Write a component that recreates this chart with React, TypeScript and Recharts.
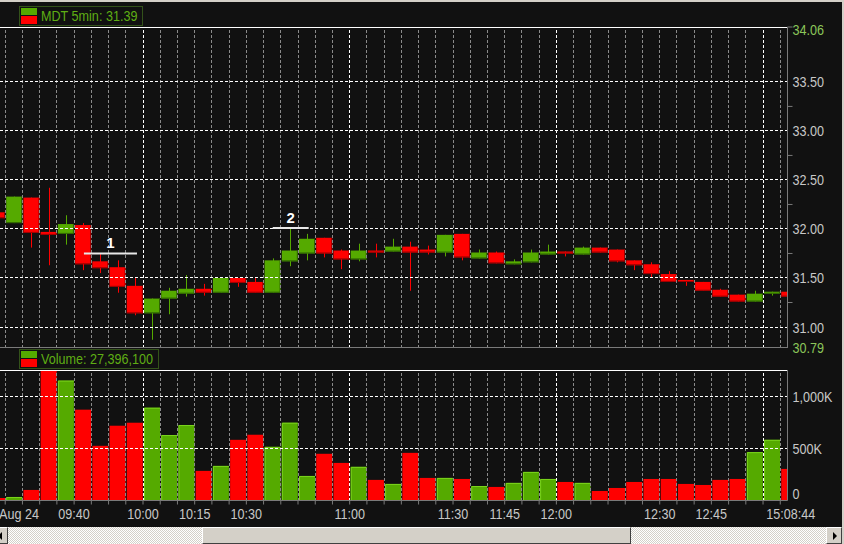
import { ComposedChart, Bar, XAxis, YAxis, ReferenceLine } from 'recharts'

// 5 minute bars, the first three are the close of the previous session
const TIMES = [
  '15:45', '15:50', '15:55',
  '09:30', '09:35', '09:40', '09:45', '09:50', '09:55',
  '10:00', '10:05', '10:10', '10:15', '10:20', '10:25', '10:30', '10:35', '10:40', '10:45', '10:50', '10:55',
  '11:00', '11:05', '11:10', '11:15', '11:20', '11:25', '11:30', '11:35', '11:40', '11:45', '11:50', '11:55',
  '12:00', '12:05', '12:10', '12:15', '12:20', '12:25', '12:30', '12:35', '12:40', '12:45', '12:50', '12:55',
  '13:00', '13:05'
]
const OPEN = [
  32.17, 32.06, 32.32,
  31.97, 31.95, 32.04, 31.67, 31.61, 31.42,
  31.14, 31.29, 31.34, 31.39, 31.35, 31.50, 31.46, 31.35, 31.67, 31.75, 31.91, 31.78,
  31.69, 31.78, 31.77, 31.82, 31.79, 31.76, 31.95, 31.70, 31.76, 31.64, 31.66, 31.74,
  31.77, 31.74, 31.81, 31.79, 31.68, 31.64, 31.54, 31.48, 31.46, 31.38, 31.33, 31.26,
  31.34, 31.36
]
const HIGH = [
  32.18, 32.33, 32.32,
  32.42, 32.14, 32.06, 31.75, 31.68, 31.50,
  31.29, 31.40, 31.53, 31.44, 31.51, 31.50, 31.51, 31.70, 32.00, 31.95, 31.91, 31.79,
  31.85, 31.85, 31.90, 31.87, 31.83, 31.94, 31.95, 31.79, 31.77, 31.69, 31.79, 31.84,
  31.77, 31.82, 31.81, 31.79, 31.68, 31.66, 31.57, 31.48, 31.46, 31.39, 31.33, 31.37,
  31.36, 31.36
]
const LOW = [
  32.10, 32.06, 31.81,
  31.63, 31.84, 31.58, 31.55, 31.35, 31.12,
  30.87, 31.13, 31.31, 31.32, 31.35, 31.41, 31.35, 31.35, 31.62, 31.68, 31.71, 31.59,
  31.67, 31.71, 31.77, 31.37, 31.74, 31.72, 31.68, 31.70, 31.65, 31.64, 31.66, 31.74,
  31.72, 31.74, 31.76, 31.66, 31.58, 31.51, 31.46, 31.42, 31.37, 31.31, 31.26, 31.26,
  31.32, 31.31
]
const CLOSE = [
  32.11, 32.33, 31.96,
  31.94, 32.05, 31.64, 31.60, 31.41, 31.14,
  31.29, 31.37, 31.39, 31.35, 31.50, 31.45, 31.35, 31.68, 31.78, 31.90, 31.75, 31.69,
  31.78, 31.76, 31.82, 31.76, 31.76, 31.94, 31.71, 31.76, 31.65, 31.67, 31.76, 31.77,
  31.75, 31.81, 31.76, 31.67, 31.63, 31.54, 31.46, 31.46, 31.37, 31.31, 31.26, 31.34,
  31.36, 31.31
]
// volume in thousands
const VOLUME = [
  24, 34, 102,
  1320, 1158, 877, 528, 722, 751,
  896, 632, 729, 286, 334, 586, 635, 518, 751, 237, 451, 363,
  325, 199, 160, 460, 218, 218, 208, 140, 131, 170, 276, 208,
  179, 170, 92, 121, 179, 208, 208, 160, 150, 199, 208, 467,
  586, 305
]

const TIME_LABELS: [string, string][] = [
  ['09:30', 'Aug 24'], ['09:40', '09:40'], ['10:00', '10:00'], ['10:15', '10:15'], ['10:30', '10:30'],
  ['11:00', '11:00'], ['11:30', '11:30'], ['11:45', '11:45'], ['12:00', '12:00'],
  ['12:30', '12:30'], ['12:45', '12:45'], ['13:05', '15:08:44']
]
const PRICE_LINES = [31, 31.5, 32, 32.5, 33, 33.5]
const PRICE_MINOR = [31.25, 31.75, 32.25, 32.75, 33.25]
const PRICE_MIN = 30.79
const PRICE_MAX = 34.06
const VOL_LINES = [500000, 1000000]
const VOL_MAX = 1260000

const GREEN = '#55aa00'
const RED = '#ff0000'
const BG = '#111111'
const GRID = '#8a8a8a'
const AXIS = '#7a7a7a'
const TEXT = '#c8c8c8'
const LEGEND_TEXT = '#5fae14'
const FONT = "'Liberation Sans', Arial, sans-serif"
const NARROW = 0.84 // the terminal font is a condensed face
const X_DOMAIN: [number, number] = [0.697, 46.42]

const rows = TIMES.map((t, i) => ({
  x: i + 0.5,
  t,
  open: OPEN[i],
  high: HIGH[i],
  low: LOW[i],
  close: CLOSE[i],
  volume: VOLUME[i] * 1000,
  up: CLOSE[i] >= OPEN[i]
}))

const boundaries = TIMES.map((_, i) => i).filter(i => i >= 1)
const labelAt: Record<number, string> = {}
TIME_LABELS.forEach(([t, l]) => { labelAt[TIMES.indexOf(t)] = l })

const Candle = (props: any) => {
  const { x, y, width, height, payload } = props
  if (x == null || payload == null) return null
  const top = Math.min(y, y + height)
  const h = Math.abs(height)
  const k = h / (payload.high - payload.low)
  const color = payload.up ? GREEN : RED
  const dark = payload.up ? '#2f6400' : '#9a0000'
  const bTop = top + (payload.high - Math.max(payload.open, payload.close)) * k
  const bH = Math.max(Math.abs(payload.close - payload.open) * k, 2)
  const cx = Math.round(x + width / 2) + 0.5
  return (
    <g>
      <line x1={cx} x2={cx} y1={top} y2={top + h} stroke={color} />
      <rect x={x} y={bTop} width={width} height={bH} fill={color} />
      <rect x={x + width - 1} y={bTop} width={1} height={bH} fill={dark} />
      <rect x={x} y={bTop + bH - 1} width={width} height={1} fill={dark} />
    </g>
  )
}

const VolumeBar = (props: any) => {
  const { x, y, width, height, payload } = props
  if (x == null || payload == null || !height) return null
  const color = payload.up ? GREEN : RED
  return (
    <g>
      <rect x={x} y={y} width={width} height={height} fill={color} />
      {payload.up && (
        <path d={`M${x + 0.5},${y + height} V${y + 0.5} H${x + width}`} stroke="#7ad41c" fill="none" />
      )}
    </g>
  )
}

// condensed svg text
const NText = ({ x, y, anchor = 'start', fill, children }: any) => (
  <text transform={`translate(${x},${y}) scale(${NARROW},1)`} textAnchor={anchor} fill={fill}
    fontSize={15} fontFamily={FONT}>
    {children}
  </text>
)

const PriceTick = (props: any) => {
  const { x, y, payload } = props
  const v = payload.value
  const edge = v === PRICE_MIN || v === PRICE_MAX
  const minor = PRICE_MINOR.includes(v)
  return (
    <g>
      {(minor || v === PRICE_MAX) && <line x1={x} x2={x + 5} y1={y} y2={y} stroke={AXIS} />}
      {!minor && (
        <NText x={x + 5} y={y + 5.5 + (v === PRICE_MAX ? 2 : 0)} fill={edge ? '#8cc65a' : TEXT}>
          {v.toFixed(2)}
        </NText>
      )}
    </g>
  )
}

const VolumeTick = (props: any) => {
  const { x, y, payload } = props
  const v = payload.value
  const label = v === 0 ? '0' : `${(v / 1000).toLocaleString('en-US')}K`
  return (
    <NText x={x + 5} y={y + 5.5 - (v === 0 ? 7 : 0)} fill={TEXT}>
      {label}
    </NText>
  )
}

const TimeTick = (props: any) => {
  const { x, y, payload } = props
  const label = labelAt[payload.value]
  if (!label) return null
  let anchor = 'middle'
  let tx = x
  // the day label is pinned to the left edge of the plot
  if (label === 'Aug 24') { anchor = 'start'; tx = -1 }
  if (label === '15:08:44') { anchor = 'start'; tx = x - 14 }
  return (
    <NText x={tx} y={y + 12.7} anchor={anchor} fill={TEXT}>
      {label}
    </NText>
  )
}

function LegendBox({ label, top, width }: { label: string; top: number; width: number }) {
  return (
    <div style={{
      position: 'absolute', left: 19, top, width, height: 20, boxSizing: 'border-box',
      border: '1px solid #33521a', background: BG, display: 'flex', alignItems: 'center',
      whiteSpace: 'nowrap'
    }}>
      <div style={{ marginLeft: 1, width: 16, flex: 'none' }}>
        <div style={{ height: 7, background: GREEN }} />
        <div style={{ height: 1 }} />
        <div style={{ height: 8, background: RED }} />
      </div>
      <span style={{
        marginLeft: 4, color: LEGEND_TEXT, fontSize: 15, fontFamily: FONT, lineHeight: '18px',
        whiteSpace: 'nowrap', display: 'inline-block', transform: `scaleX(${NARROW})`, transformOrigin: 'left center'
      }}>
        {label}
      </span>
    </div>
  )
}

function vGrid() {
  return boundaries.map(b => (
    <ReferenceLine key={`v${b}`} x={b} stroke={TIMES[b].endsWith(':00') ? '#ffffff' : GRID}
      strokeDasharray="3 2" shapeRendering="crispEdges" />
  ))
}

export default function App() {
  return (
    <div style={{ position: 'fixed', left: 0, top: 0, width: 844, height: 544, background: BG, overflow: 'hidden' }}>
      <div style={{ position: 'absolute', left: 0, top: 0 }}>
        <ComposedChart width={844} height={360} data={rows} margin={{ top: 27, right: 0, bottom: 12.4, left: 0 }}>
          <XAxis dataKey="x" type="number" domain={X_DOMAIN} allowDataOverflow hide />
          <YAxis orientation="right" type="number" domain={[PRICE_MIN, PRICE_MAX]} allowDataOverflow width={56.5}
            ticks={[PRICE_MIN, ...PRICE_LINES, ...PRICE_MINOR, PRICE_MAX]} interval={0}
            axisLine={{ stroke: AXIS }} tickLine={false} tickSize={0} tickMargin={0} tick={<PriceTick />} />
          {vGrid()}
          {PRICE_LINES.map(p => (
            <ReferenceLine key={`h${p}`} y={p} stroke="#ffffff" strokeDasharray="3 2" shapeRendering="crispEdges" />
          ))}
          <ReferenceLine y={PRICE_MAX} stroke="#ffffff" shapeRendering="crispEdges" />
          <ReferenceLine y={PRICE_MIN} stroke={AXIS} shapeRendering="crispEdges" />
          <Bar dataKey={(d: any) => [d.low, d.high]} barSize={16} shape={<Candle />} isAnimationActive={false} />
          <ReferenceLine segment={[{ x: 5.57, y: 31.75 }, { x: 8.65, y: 31.75 }]} stroke="#e8e8e8" strokeWidth={2}
            label={{ value: '1', position: 'top', fill: '#ffffff', fontSize: 15, fontWeight: 'bold', fontFamily: FONT }} />
          <ReferenceLine segment={[{ x: 16.53, y: 32.01 }, { x: 18.62, y: 32.01 }]} stroke="#e8e8e8" strokeWidth={2}
            label={{ value: '2', position: 'top', fill: '#ffffff', fontSize: 15, fontWeight: 'bold', fontFamily: FONT }} />
        </ComposedChart>
      </div>

      <div style={{ position: 'absolute', left: 0, top: 348 }}>
        <ComposedChart width={844} height={179} data={rows} margin={{ top: 22, right: 0, bottom: 0, left: 0 }}>
          <XAxis dataKey="x" type="number" domain={X_DOMAIN} allowDataOverflow ticks={boundaries} interval={0}
            height={26.5} axisLine={{ stroke: AXIS }} tickLine={{ stroke: AXIS }} tickSize={4} tickMargin={2}
            tick={<TimeTick />} />
          <YAxis orientation="right" type="number" domain={[0, VOL_MAX]} allowDataOverflow width={56.5}
            ticks={[0, ...VOL_LINES]} interval={0} axisLine={{ stroke: AXIS }} tickLine={false}
            tickSize={0} tickMargin={0} tick={<VolumeTick />} />
          {vGrid()}
          {VOL_LINES.map(v => (
            <ReferenceLine key={`vh${v}`} y={v} stroke="#ffffff" strokeDasharray="3 2" shapeRendering="crispEdges" />
          ))}
          <ReferenceLine y={VOL_MAX} stroke="#ffffff" shapeRendering="crispEdges" />
          <Bar dataKey="volume" barSize={16} shape={<VolumeBar />} isAnimationActive={false} />
        </ComposedChart>
      </div>

      <LegendBox label="MDT 5min: 31.39" top={6} width={124} />
      <LegendBox label="Volume: 27,396,100" top={349} width={140} />

      {/* window frame and scroll bar */}
      <div style={{ position: 'absolute', left: 0, top: 0, width: 844, height: 2, background: '#d4d0c8' }} />
      <div style={{ position: 'absolute', left: 842, top: 0, width: 2, height: 544, background: '#d4d0c8' }} />
      <div style={{
        position: 'absolute', left: 0, top: 527, width: 842, height: 17,
        background: 'repeating-conic-gradient(#d4d0c8 0% 25%, #ffffff 0% 50%) 0 0 / 2px 2px'
      }}>
        <div style={{
          position: 'absolute', left: -8, top: 0, width: 16, height: 17, boxSizing: 'border-box', background: '#d4d0c8',
          borderTop: '1px solid #fff', borderLeft: '1px solid #fff', borderRight: '1px solid #404040', borderBottom: '1px solid #404040'
        }}>
          <div style={{ position: 'absolute', left: 5, top: 4, width: 0, height: 0, borderTop: '4px solid transparent', borderBottom: '4px solid transparent', borderRight: '4px solid #000' }} />
        </div>
        <div style={{
          position: 'absolute', left: 202, top: 0, width: 429, height: 17, boxSizing: 'border-box', background: '#d4d0c8',
          borderTop: '1px solid #fff', borderLeft: '1px solid #fff', borderRight: '1px solid #404040', borderBottom: '1px solid #404040'
        }} />
        <div style={{
          position: 'absolute', left: 826, top: 0, width: 16, height: 17, boxSizing: 'border-box', background: '#d4d0c8',
          borderTop: '1px solid #fff', borderLeft: '1px solid #fff', borderRight: '1px solid #404040', borderBottom: '1px solid #404040'
        }}>
          <div style={{ position: 'absolute', left: 6, top: 4, width: 0, height: 0, borderTop: '4px solid transparent', borderBottom: '4px solid transparent', borderLeft: '4px solid #000' }} />
        </div>
      </div>
    </div>
  )
}
